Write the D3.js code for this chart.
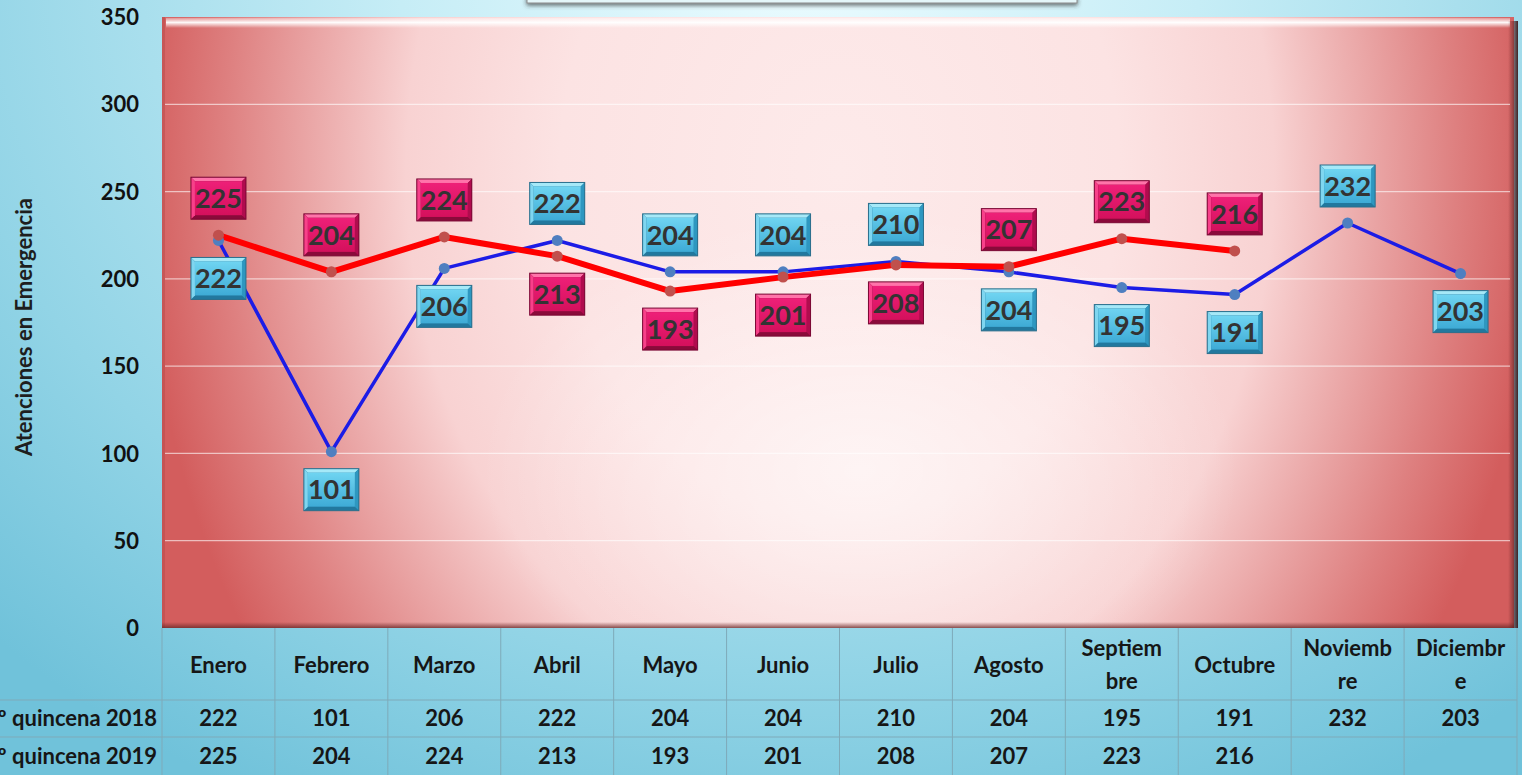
<!DOCTYPE html>
<html>
<head>
<meta charset="utf-8">
<script src="https://cdn.jsdelivr.net/npm/d3@7"></script>
<style>
  body { margin: 0; overflow: hidden; }
  svg { display: block; font-family: Lato, "Open Sans", sans-serif; }
</style>
</head>
<body>
<div id="chart"></div>
<script>
// data
var months = ["Enero", "Febrero", "Marzo", "Abril", "Mayo", "Junio", "Julio", "Agosto", "Septiembre", "Octubre", "Noviembre", "Diciembre"]
var monthLines = [["Enero"], ["Febrero"], ["Marzo"], ["Abril"], ["Mayo"], ["Junio"], ["Julio"], ["Agosto"], ["Septiem", "bre"], ["Octubre"], ["Noviemb", "re"], ["Diciembr", "e"]]
var quincena2018 = [222, 101, 206, 222, 204, 204, 210, 204, 195, 191, 232, 203]
var quincena2019 = [225, 204, 224, 213, 193, 201, 208, 207, 223, 216, null, null]
var rowLabels = ["1º quincena 2018", "1º quincena 2019"]
var yTicks = [0, 50, 100, 150, 200, 250, 300, 350]
var yTitle = "Atenciones en Emergencia"

var W = 1522, H = 775
var plot = {left: 162, right: 1514, top: 17, bottom: 628}
var tableRight = 1517
var rowH = [628, 700, 737, 775]

var svg = d3.select("#chart").append("svg")
  .attr("width", W)
  .attr("height", H)

var defs = svg.append("defs")

// page background
var bg = defs.append("radialGradient").attr("id", "bg")
  .attr("gradientUnits", "userSpaceOnUse")
  .attr("cx", 0).attr("cy", 0).attr("r", 1)
  .attr("gradientTransform", "translate(800,-40) scale(1150,950)")
bg.append("stop").attr("offset", 0).attr("stop-color", "#ecfcff")
bg.append("stop").attr("offset", 0.35).attr("stop-color", "#c6edf6")
bg.append("stop").attr("offset", 0.75).attr("stop-color", "#92d4e6")
bg.append("stop").attr("offset", 1).attr("stop-color", "#70c2da")

// plot area fill
var pf = defs.append("radialGradient").attr("id", "plotFill")
  .attr("gradientUnits", "userSpaceOnUse")
  .attr("cx", 0).attr("cy", 0).attr("r", 1)
  .attr("gradientTransform", "translate(840,170) scale(700,880)")
pf.append("stop").attr("offset", 0).attr("stop-color", "#fdeaea")
pf.append("stop").attr("offset", 0.4).attr("stop-color", "#fce3e3")
pf.append("stop").attr("offset", 0.62).attr("stop-color", "#f8d2d2")
pf.append("stop").attr("offset", 0.76).attr("stop-color", "#eaa6a6")
pf.append("stop").attr("offset", 0.88).attr("stop-color", "#de8080")
pf.append("stop").attr("offset", 1).attr("stop-color", "#d35d5d")

// soft glow in the lower middle
var glow = defs.append("radialGradient").attr("id", "glow")
  .attr("gradientUnits", "userSpaceOnUse")
  .attr("cx", 0).attr("cy", 0).attr("r", 1)
  .attr("gradientTransform", "translate(860,470) scale(380,260)")
glow.append("stop").attr("offset", 0).attr("stop-color", "#fff").attr("stop-opacity", 0.6)
glow.append("stop").attr("offset", 1).attr("stop-color", "#fff").attr("stop-opacity", 0)

var topHi = defs.append("linearGradient").attr("id", "topHi")
  .attr("x1", 0).attr("y1", 0).attr("x2", 0).attr("y2", 1)
topHi.append("stop").attr("offset", 0).attr("stop-color", "#fff").attr("stop-opacity", 0.3)
topHi.append("stop").attr("offset", 0.45).attr("stop-color", "#fff").attr("stop-opacity", 0.95)
topHi.append("stop").attr("offset", 1).attr("stop-color", "#fff").attr("stop-opacity", 0)

var rightSh = defs.append("linearGradient").attr("id", "rightSh")
  .attr("x1", 0).attr("y1", 0).attr("x2", 1).attr("y2", 0)
rightSh.append("stop").attr("offset", 0).attr("stop-color", "#6a2424").attr("stop-opacity", 0)
rightSh.append("stop").attr("offset", 1).attr("stop-color", "#3c1818").attr("stop-opacity", 0.95)

var bottomSh = defs.append("linearGradient").attr("id", "bottomSh")
  .attr("x1", 0).attr("y1", 0).attr("x2", 0).attr("y2", 1)
bottomSh.append("stop").attr("offset", 0).attr("stop-color", "#7a2a2a").attr("stop-opacity", 0)
bottomSh.append("stop").attr("offset", 1).attr("stop-color", "#6a2a2a").attr("stop-opacity", 0.8)

var shadow = defs.append("filter").attr("id", "shadow")
  .attr("x", "-10%").attr("y", "-50%").attr("width", "120%").attr("height", "200%")
shadow.append("feDropShadow").attr("dx", 0).attr("dy", 2).attr("stdDeviation", 2)
  .attr("flood-color", "#333").attr("flood-opacity", 0.7)

// label box gradients
function boxGrad(id, c1, c2) {
  var g = defs.append("linearGradient").attr("id", id)
    .attr("x1", 0).attr("y1", 0).attr("x2", 0).attr("y2", 1)
  g.append("stop").attr("offset", 0).attr("stop-color", c1)
  g.append("stop").attr("offset", 1).attr("stop-color", c2)
}
boxGrad("blueBox", "#6fd4f1", "#3eabd6")
boxGrad("redBox", "#ee2078", "#d4105c")

svg.append("rect").attr("width", W).attr("height", H).attr("fill", "url(#bg)")

// cut off title box at top
svg.append("rect")
  .attr("x", 527).attr("y", -30)
  .attr("width", 550).attr("height", 33)
  .attr("fill", "#e4f6f9")
  .attr("stroke", "#8a8a8a")
  .attr("filter", "url(#shadow)")

// scales
var x = d3.scaleBand()
  .domain(months)
  .range([plot.left, tableRight])

var y = d3.scaleLinear()
  .domain([0, 350])
  .range([plot.bottom, plot.top])

// plot area
svg.append("rect")
  .attr("x", plot.left).attr("y", plot.top)
  .attr("width", plot.right - plot.left).attr("height", plot.bottom - plot.top)
  .attr("fill", "url(#plotFill)")
svg.append("rect")
  .attr("x", plot.left).attr("y", plot.top)
  .attr("width", plot.right - plot.left).attr("height", plot.bottom - plot.top)
  .attr("fill", "url(#glow)")
svg.append("rect")
  .attr("x", plot.left + 4).attr("y", plot.top + 1)
  .attr("width", plot.right - plot.left - 8).attr("height", 10)
  .attr("fill", "url(#topHi)")
svg.append("rect")
  .attr("x", plot.left).attr("y", plot.top)
  .attr("width", 3).attr("height", plot.bottom - plot.top)
  .attr("fill", "#b84a4a").attr("opacity", 0.5)
svg.append("rect")
  .attr("x", plot.left).attr("y", plot.bottom - 6)
  .attr("width", plot.right - plot.left).attr("height", 6)
  .attr("fill", "url(#bottomSh)")
svg.append("rect")
  .attr("x", plot.right - 6).attr("y", plot.top + 4)
  .attr("width", 10).attr("height", plot.bottom - plot.top - 4)
  .attr("fill", "url(#rightSh)")

// gridlines
svg.append("g")
  .selectAll("line")
  .data(yTicks.filter(function(d) { return d > 0 && d < 350 }))
  .enter()
  .append("line")
  .attr("x1", plot.left + 3).attr("x2", plot.right - 4)
  .attr("y1", function(d) { return y(d) }).attr("y2", function(d) { return y(d) })
  .attr("stroke", "#ffffff").attr("stroke-opacity", 0.6).attr("stroke-width", 1.3)

// y axis
var yAxis = svg.append("g")
  .attr("transform", "translate(" + plot.left + ",0)")
  .call(d3.axisLeft(y).tickValues(yTicks).tickSize(0).tickPadding(23))
yAxis.select(".domain").remove()
yAxis.selectAll("text")
  .attr("dy", "0.35em")
  .style("font-size", "22px")
  .style("font-weight", "bold")
  .style("font-family", "Lato, sans-serif")
  .attr("fill", "#111")

svg.append("text")
  .attr("transform", "translate(32,327) rotate(-90)")
  .attr("text-anchor", "middle")
  .style("font-size", "22px")
  .style("font-weight", "bold")
  .attr("fill", "#1e1e1e")
  .text(yTitle)

// data table
var table = svg.append("g").attr("class", "table")
var gridCol = "#7eaab9"
months.forEach(function(m) {
  table.append("line")
    .attr("x1", x(m)).attr("x2", x(m))
    .attr("y1", rowH[0]).attr("y2", H)
    .attr("stroke", gridCol)
})
table.append("line")
  .attr("x1", tableRight).attr("x2", tableRight)
  .attr("y1", rowH[0]).attr("y2", H)
  .attr("stroke", gridCol)
;[rowH[1], rowH[2]].forEach(function(yy) {
  table.append("line")
    .attr("x1", 0).attr("x2", tableRight)
    .attr("y1", yy).attr("y2", yy)
    .attr("stroke", gridCol)
})

months.forEach(function(m, i) {
  var lines = monthLines[i]
  var cy = (rowH[0] + rowH[1]) / 2
  var t = table.append("text")
    .attr("text-anchor", "middle")
    .style("font-size", "22px")
    .style("font-weight", "bold")
    .attr("fill", "#161616")
  lines.forEach(function(s, j) {
    t.append("tspan")
      .attr("x", x(m) + x.bandwidth() / 2)
      .attr("y", cy + 1 + (j - (lines.length - 1) / 2) * 33)
      .attr("dy", "0.35em")
      .text(s)
  })
})

// row labels run off the left edge, as in the original
;[quincena2018, quincena2019].forEach(function(series, r) {
  var cy = (rowH[r + 1] + rowH[r + 2]) / 2
  table.append("text")
    .attr("x", 157).attr("y", cy).attr("dy", "0.35em")
    .attr("text-anchor", "end")
    .style("font-size", "22px")
    .style("font-weight", "bold")
    .attr("fill", "#161616")
    .text(rowLabels[r])
  series.forEach(function(v, i) {
    if (v == null) return
    table.append("text")
      .attr("x", x(months[i]) + x.bandwidth() / 2).attr("y", cy).attr("dy", "0.35em")
      .attr("text-anchor", "middle")
      .style("font-size", "22px")
      .style("font-weight", "bold")
      .attr("fill", "#161616")
      .text(v)
  })
})

// lines
var cx = function(i) { return x(months[i]) + x.bandwidth() / 2 }
var line = d3.line()
  .defined(function(d) { return d != null })
  .x(function(d, i) { return cx(i) })
  .y(function(d) { return y(d) })

svg.append("path")
  .datum(quincena2018)
  .attr("d", line)
  .attr("fill", "none")
  .attr("stroke", "#1c1ce6")
  .attr("stroke-width", 3.5)
  .attr("stroke-linejoin", "round")

svg.append("path")
  .datum(quincena2019)
  .attr("d", line)
  .attr("fill", "none")
  .attr("stroke", "#ff0000")
  .attr("stroke-width", 6)
  .attr("stroke-linejoin", "round")

function markers(series, color) {
  svg.append("g")
    .selectAll("circle")
    .data(series.map(function(v, i) { return {v: v, i: i} }).filter(function(d) { return d.v != null }))
    .enter()
    .append("circle")
    .attr("cx", function(d) { return cx(d.i) })
    .attr("cy", function(d) { return y(d.v) })
    .attr("r", 5.5)
    .attr("fill", color)
}
markers(quincena2018, "#4f7fc0")
markers(quincena2019, "#c0504d")

// labels: above when the value is higher than the other series (or the previous point)
function labels(series, other, fillId, edge) {
  var bw = 55, bh = 42, b = 4
  series.forEach(function(v, i) {
    if (v == null) return
    var o = other[i]
    var above = o != null ? v > o : (i > 0 && v > series[i - 1])
    var lx = cx(i), ly = y(v) + (above ? -37 : 38)
    var g = svg.append("g").attr("transform", "translate(" + (lx - bw / 2) + "," + (ly - bh / 2) + ")")
    g.append("rect").attr("width", bw).attr("height", bh).attr("fill", edge.bottom)
    g.append("polygon").attr("points", [[0, 0], [bw, 0], [bw - b, b], [b, b]].join(" ")).attr("fill", edge.top)
    g.append("polygon").attr("points", [[0, 0], [b, b], [b, bh - b], [0, bh]].join(" ")).attr("fill", edge.left)
    g.append("polygon").attr("points", [[bw, 0], [bw, bh], [bw - b, bh - b], [bw - b, b]].join(" ")).attr("fill", edge.right)
    g.append("rect").attr("x", b).attr("y", b).attr("width", bw - 2 * b).attr("height", bh - 2 * b).attr("fill", "url(#" + fillId + ")")
    g.append("rect").attr("width", bw).attr("height", bh).attr("fill", "none").attr("stroke", edge.line).attr("stroke-width", 1)
    g.append("text")
      .attr("x", bw / 2).attr("y", bh / 2).attr("dy", "0.36em")
      .attr("text-anchor", "middle")
      .style("font-size", "27px")
      .style("font-weight", "bold")
      .attr("fill", "#333")
      .text(v)
  })
}
labels(quincena2018, quincena2019, "blueBox", {top: "#a6e9f8", left: "#7fd6f0", right: "#2e97c0", bottom: "#22789e", line: "#2b6f8c"})
labels(quincena2019, quincena2018, "redBox", {top: "#ff74aa", left: "#f8408a", right: "#b00c4e", bottom: "#8a0a3a", line: "#7a0834"})
</script>
</body>
</html>
